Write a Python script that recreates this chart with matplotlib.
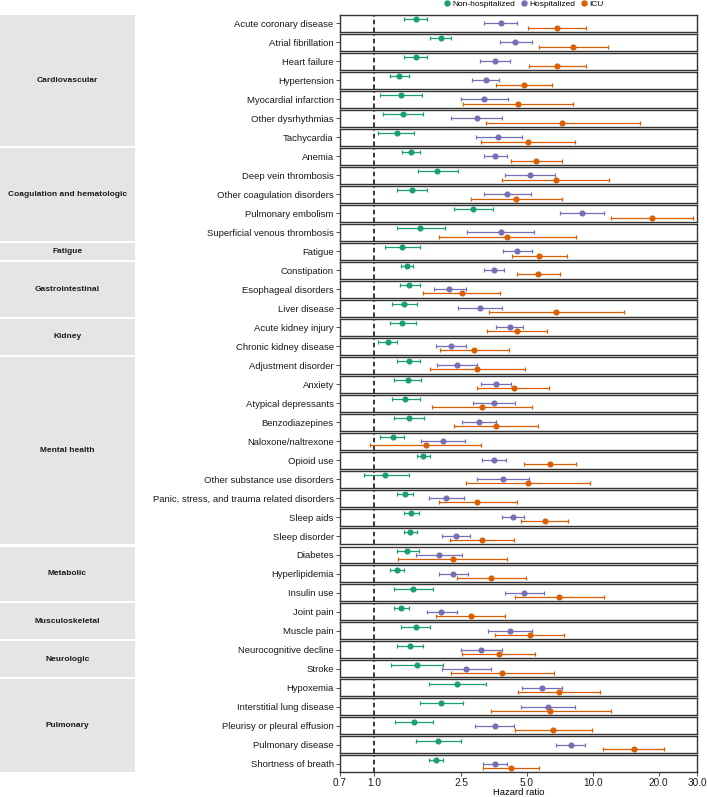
import matplotlib.pyplot as plt
import numpy as np
from matplotlib.lines import Line2D
from matplotlib.patches import Rectangle
from matplotlib.ticker import NullLocator, FixedLocator, FixedFormatter

plt.rcParams['font.family'] = ['Liberation Sans', 'DejaVu Sans']

# Data
groups = ["Cardiovascular", "Coagulation and hematologic", "Fatigue", "Gastrointestinal",
          "Kidney", "Mental health", "Metabolic", "Musculoskeletal", "Neurologic", "Pulmonary"]
group_sizes = [7, 5, 1, 3, 2, 10, 3, 2, 2, 5]
outcomes = [
    "Acute coronary disease", "Atrial fibrillation", "Heart failure", "Hypertension",
    "Myocardial infarction", "Other dysrhythmias", "Tachycardia",
    "Anemia", "Deep vein thrombosis", "Other coagulation disorders", "Pulmonary embolism",
    "Superficial venous thrombosis",
    "Fatigue",
    "Constipation", "Esophageal disorders", "Liver disease",
    "Acute kidney injury", "Chronic kidney disease",
    "Adjustment disorder", "Anxiety", "Atypical depressants", "Benzodiazepines",
    "Naloxone/naltrexone", "Opioid use", "Other substance use disorders",
    "Panic, stress, and trauma related disorders", "Sleep aids", "Sleep disorder",
    "Diabetes", "Hyperlipidemia", "Insulin use",
    "Joint pain", "Muscle pain",
    "Neurocognitive decline", "Stroke",
    "Hypoxemia", "Interstitial lung disease", "Pleurisy or pleural effusion",
    "Pulmonary disease", "Shortness of breath",
]

non_hr = [1.55, 2.02, 1.56, 1.30, 1.33, 1.36, 1.27, 1.48, 1.95, 1.49, 2.84, 1.63, 1.35, 1.42,
          1.45, 1.38, 1.35, 1.16, 1.44, 1.43, 1.39, 1.45, 1.22, 1.68, 1.13, 1.39, 1.48, 1.47,
          1.42, 1.28, 1.51, 1.33, 1.55, 1.46, 1.58, 2.41, 2.03, 1.53, 1.96, 1.92]
non_lo = [1.38, 1.81, 1.38, 1.18, 1.07, 1.10, 1.04, 1.35, 1.59, 1.28, 2.33, 1.27, 1.12, 1.33,
          1.31, 1.21, 1.18, 1.04, 1.28, 1.24, 1.21, 1.24, 1.07, 1.57, 0.90, 1.27, 1.37, 1.37,
          1.27, 1.19, 1.24, 1.23, 1.33, 1.27, 1.20, 1.79, 1.62, 1.25, 1.55, 1.78]
non_hi = [1.74, 2.24, 1.75, 1.44, 1.66, 1.68, 1.53, 1.62, 2.42, 1.75, 3.49, 2.11, 1.63, 1.51,
          1.62, 1.58, 1.56, 1.28, 1.62, 1.64, 1.62, 1.69, 1.38, 1.80, 1.45, 1.51, 1.61, 1.58,
          1.60, 1.38, 1.86, 1.44, 1.80, 1.68, 2.08, 3.24, 2.56, 1.87, 2.49, 2.07]

hosp_hr = [3.80, 4.43, 3.59, 3.24, 3.19, 2.96, 3.71, 3.59, 5.17, 4.06, 8.92, 3.80, 4.51, 3.53,
           2.21, 3.04, 4.18, 2.24, 2.41, 3.62, 3.55, 3.03, 2.06, 3.55, 3.88, 2.14, 4.34, 2.37,
           1.98, 2.31, 4.84, 2.03, 4.21, 3.08, 2.65, 5.85, 6.24, 3.57, 7.94, 3.57]
hosp_lo = [3.20, 3.76, 3.07, 2.82, 2.49, 2.26, 2.93, 3.18, 3.96, 3.20, 7.10, 2.66, 3.91, 3.18,
           1.88, 2.42, 3.62, 1.92, 1.95, 3.10, 2.84, 2.54, 1.65, 3.12, 2.95, 1.79, 3.87, 2.05,
           1.56, 1.98, 3.96, 1.74, 3.34, 2.49, 2.05, 4.74, 4.71, 2.91, 6.83, 3.14]
hosp_hi = [4.53, 5.27, 4.21, 3.72, 4.09, 3.87, 4.74, 4.08, 6.76, 5.23, 11.3, 5.41, 5.27, 3.94,
           2.63, 3.84, 4.82, 2.64, 2.97, 4.24, 4.43, 3.60, 2.60, 4.02, 5.10, 2.57, 4.86, 2.76,
           2.53, 2.68, 5.98, 2.41, 5.30, 3.84, 3.42, 7.22, 8.28, 4.37, 9.27, 4.06]

icu_hr = [6.85, 8.17, 6.90, 4.84, 4.56, 7.27, 5.08, 5.51, 6.78, 4.48, 18.7, 4.06, 5.71, 5.63,
          2.52, 6.83, 4.50, 2.88, 2.97, 4.39, 3.12, 3.62, 1.73, 6.39, 5.08, 2.97, 6.04, 3.12,
          2.29, 3.43, 7.05, 2.77, 5.15, 3.72, 3.85, 7.00, 6.41, 6.62, 15.4, 4.22]
icu_lo = [5.07, 5.69, 5.12, 3.62, 2.56, 3.24, 3.09, 4.24, 3.87, 2.78, 12.1, 1.99, 4.30, 4.50,
          1.68, 3.36, 3.28, 2.01, 1.81, 2.96, 1.85, 2.33, 0.96, 4.87, 2.65, 1.99, 4.72, 2.22,
          1.29, 2.41, 4.42, 1.93, 3.59, 2.53, 2.25, 4.55, 3.42, 4.42, 11.2, 3.14]
icu_hi = [9.29, 11.8, 9.29, 6.50, 8.11, 16.4, 8.34, 7.22, 11.9, 7.22, 28.9, 8.37, 7.61, 7.07,
          3.76, 13.9, 6.21, 4.13, 4.91, 6.34, 5.30, 5.65, 3.09, 8.37, 9.70, 4.50, 7.75, 4.39,
          4.08, 4.95, 11.3, 3.99, 7.40, 5.47, 6.64, 10.8, 12.1, 9.91, 21.1, 5.67]

series = [
    ("Non-hospitalized", non_hr, non_lo, non_hi, "#1b9e77", 1),
    ("Hospitalized", hosp_hr, hosp_lo, hosp_hi, "#7570b3", 0),
    ("ICU", icu_hr, icu_lo, icu_hi, "#d95f02", -1),
]

x_ticks = [0.7, 1.0, 2.5, 5.0, 10.0, 20.0, 30.0]
x_tick_labels = ["0.7", "1.0", "2.5", "5.0", "10.0", "20.0", "30.0"]

fig = plt.figure(figsize=(7.07, 7.97), dpi=100)
n = len(outcomes)
gs = fig.add_gridspec(n, 1, left=0.4809, right=0.9859, top=0.9812, bottom=0.0310, hspace=0.118)

axes = []
for i in range(n):
    ax = fig.add_subplot(gs[i, 0])
    axes.append(ax)
    ax.set_xscale("log")
    ax.axvline(1.0, color="black", lw=1.1, ls=(0, (3, 2)), zorder=1)
    for name, hr, lo, hi, col, ypos in series:
        ax.errorbar([hr[i]], [ypos], xerr=[[hr[i] - lo[i]], [hi[i] - hr[i]]],
                    fmt="o", color=col, ms=3.4, elinewidth=0.9, capsize=1.4,
                    capthick=0.9, zorder=3)
    ax.set_xlim(0.7, 30)
    ax.set_ylim(-2, 2)
    ax.set_yticks([0])
    ax.set_yticklabels([outcomes[i]], fontsize=6.8, color="#1a1a1a")
    ax.tick_params(axis="y", length=3, width=0.6, pad=1.5, color="#333333")
    ax.xaxis.set_minor_locator(NullLocator())
    ax.xaxis.set_major_locator(FixedLocator(x_ticks))
    for sp in ax.spines.values():
        sp.set_color("#333333")
        sp.set_linewidth(1.0)
    if i < n - 1:
        ax.tick_params(axis="x", bottom=False, labelbottom=False)
    else:
        ax.xaxis.set_major_formatter(FixedFormatter(x_tick_labels))
        ax.tick_params(axis="x", length=3, width=0.6, pad=1.2, labelsize=7.2,
                       color="#333333", labelcolor="#1a1a1a")
        ax.set_xlabel("Hazard ratio", fontsize=6.8, labelpad=0.2)

# Group strips on the left
start = 0
for g, size in zip(groups, group_sizes):
    top = axes[start].get_position().y1
    bottom = axes[start + size - 1].get_position().y0
    fig.add_artist(Rectangle((0, bottom), 135 / 707, top - bottom, transform=fig.transFigure,
                             facecolor="#e5e5e5", edgecolor="none"))
    fig.text(67.5 / 707, (top + bottom) / 2, g, ha="center", va="center",
             fontsize=6.0, fontweight="bold", color="#1a1a1a")
    start += size

# Legend
handles = [Line2D([], [], marker="o", ls="", color=s[4], ms=3.6) for s in series]
fig.legend(handles, [s[0] for s in series], loc="center", bbox_to_anchor=(0.74, 0.9955),
           ncol=3, frameon=False, fontsize=6.0, handletextpad=0.1, columnspacing=0.6,
           handlelength=1.0, borderpad=0)

fig.savefig("out.png", dpi=100)
